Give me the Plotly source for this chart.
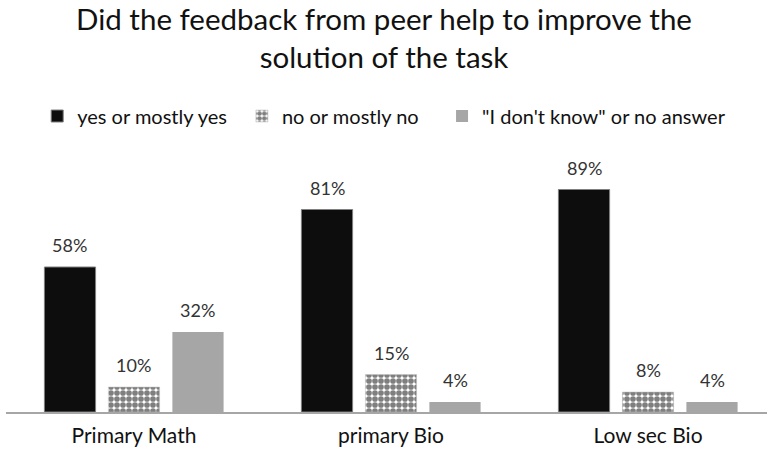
import plotly.graph_objects as go

# Survey results: share of answers per group (percent)
categories = ["Primary Math", "primary Bio", "Low sec Bio"]
series_names = ["yes or mostly yes", "no or mostly no", "\"I don't know\" or no answer"]
yes_values = [58, 81, 89]
no_values = [10, 15, 8]
dont_know_values = [32, 4, 4]

title_text = "Did the feedback from peer help to improve the<br>solution of the task"

FONT = "Lato"
TEXT_DARK = "#111111"
LABEL_GRAY = "#333333"

fig = go.Figure()

fig.add_trace(go.Bar(
    name=series_names[0], x=categories, y=yes_values, legend="legend",
    marker=dict(color="#0d0d0d", line=dict(color="#7f7f7f", width=1)),
))
fig.add_trace(go.Bar(
    name=series_names[1], x=categories, y=no_values, legend="legend2",
    marker=dict(
        color="white",
        line=dict(color="#bfbfbf", width=0.5),
        pattern=dict(shape=".", fgcolor="black", bgcolor="white",
                     size=6, solidity=0.7, fillmode="overlay"),
    ),
))
fig.add_trace(go.Bar(
    name=series_names[2], x=categories, y=dont_know_values, legend="legend3",
    marker=dict(color="#a6a6a6", line=dict(color="#a6a6a6", width=0)),
))

# Value labels above each bar, offset to the bar's slot inside the group
slot_px = 64
annotations = []
for k, vals in enumerate([yes_values, no_values, dont_know_values]):
    for cat, v in zip(categories, vals):
        annotations.append(dict(
            x=cat, y=v, xref="x", yref="y",
            text=f"{v}%", showarrow=False,
            xshift=(k - 1) * slot_px, yshift=9,
            yanchor="bottom", xanchor="center",
            font=dict(family=FONT, size=18, color=LABEL_GRAY),
        ))


def legend_box(xpos):
    return dict(
        orientation="h", x=xpos, xanchor="left",
        y=1.184, yanchor="middle",
        font=dict(family=FONT, size=20, color=TEXT_DARK),
        itemwidth=30, bgcolor="rgba(0,0,0,0)",
    )


fig.update_layout(
    width=768, height=456,
    margin=dict(l=6, r=1, t=162, b=44),
    paper_bgcolor="white", plot_bgcolor="white",
    barmode="group", bargap=0.253, bargroupgap=0.2,
    title=dict(
        text=title_text, x=0.5, xanchor="center",
        y=0.934, yanchor="middle", yref="container",
        font=dict(family=FONT, size=29.5, color=TEXT_DARK),
    ),
    legend=legend_box(0.041),
    legend2=legend_box(0.310),
    legend3=legend_box(0.573),
    annotations=annotations,
    showlegend=True,
)

fig.update_xaxes(
    range=[-0.498, 2.463],
    showline=True, linecolor="#a6a6a6", linewidth=2,
    showgrid=False, ticks="", ticklabelstandoff=4,
    tickfont=dict(family=FONT, size=21, color=TEXT_DARK),
)
fig.update_yaxes(
    range=[0, 100], visible=False, showgrid=False, zeroline=False,
)

fig.write_html("out.html")
